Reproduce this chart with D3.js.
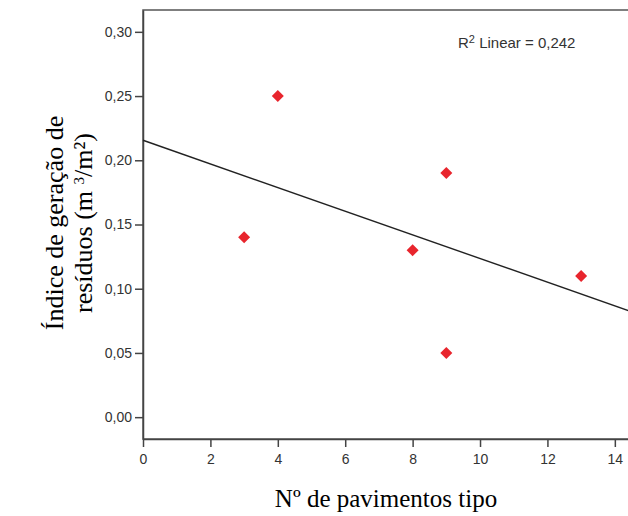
<!DOCTYPE html>
<html>
<head>
<meta charset="utf-8">
<script src="https://cdn.jsdelivr.net/npm/d3@7"></script>
<style>
  body { margin: 0; background: #fff; }
  .tick text { font-family: "Liberation Sans", Arial, sans-serif; font-size: 14px; fill: #333; }
  .tick line, .domain { stroke: #444; }
</style>
</head>
<body>
<div id="chart"></div>
<script>
// pavimentos tipo vs indice de geracao de residuos
var pavimentos = [3, 4, 8, 9, 9, 13];
var indice = [0.14, 0.25, 0.13, 0.19, 0.05, 0.11];
var xTicks = [0, 2, 4, 6, 8, 10, 12, 14];
var yTicks = [0, 0.05, 0.10, 0.15, 0.20, 0.25, 0.30];

var width = 628, height = 516;
var margin = {top: 10, right: -2, bottom: 77, left: 143};

var svg = d3.select("#chart").append("svg")
    .attr("width", width)
    .attr("height", height);

var x = d3.scaleLinear()
    .domain([0, 14.45])
    .range([margin.left, width - margin.right]);

var y = d3.scaleLinear()
    .domain([-0.017, 0.317])
    .range([height - margin.bottom, margin.top]);

var fmtY = function(d) { return d3.format(".2f")(d).replace(".", ","); };

// frame
svg.append("rect")
    .attr("x", x(0))
    .attr("y", y(0.317))
    .attr("width", x(14.45) - x(0))
    .attr("height", y(-0.017) - y(0.317))
    .attr("fill", "none")
    .attr("stroke", "#555")
    .attr("stroke-width", 1.5);

svg.append("g")
    .attr("transform", "translate(0," + y(-0.017) + ")")
    .call(d3.axisBottom(x).tickValues(xTicks).tickSize(8).tickPadding(7).tickSizeOuter(0))
    .call(function(g) { g.selectAll("line, .domain").attr("stroke-width", 1.5); });

svg.append("g")
    .attr("transform", "translate(" + x(0) + ",0)")
    .call(d3.axisLeft(y).tickValues(yTicks).tickFormat(fmtY).tickSize(8).tickPadding(3).tickSizeOuter(0))
    .call(function(g) { g.selectAll("line, .domain").attr("stroke-width", 1.5); });

// linear fit
var mx = d3.mean(pavimentos), my = d3.mean(indice);
var sxy = d3.sum(pavimentos, function(v, i) { return (v - mx) * (indice[i] - my); });
var sxx = d3.sum(pavimentos, function(v) { return (v - mx) * (v - mx); });
var syy = d3.sum(indice, function(v) { return (v - my) * (v - my); });
var slope = sxy / sxx, intercept = my - slope * mx;
var r2 = sxy * sxy / (sxx * syy);

svg.append("line")
    .attr("x1", x(0)).attr("y1", y(intercept))
    .attr("x2", x(14.45)).attr("y2", y(intercept + slope * 14.45))
    .attr("stroke", "#222")
    .attr("stroke-width", 1.4);

svg.selectAll(".pt")
    .data(pavimentos)
  .enter().append("path")
    .attr("class", "pt")
    .attr("d", d3.symbol().type(d3.symbolSquare).size(72))
    .attr("transform", function(d, i) { return "translate(" + x(d) + "," + y(indice[i]) + ") rotate(45)"; })
    .attr("fill", "#e8252d");

var r2t = svg.append("text")
    .attr("x", 458)
    .attr("y", 48)
    .style("font-family", "Liberation Sans, Arial, sans-serif")
    .style("font-size", "15px")
    .style("fill", "#333");
r2t.append("tspan").text("R");
r2t.append("tspan").attr("dy", -5).style("font-size", "11px").text("2");
r2t.append("tspan").attr("dy", 5).text(" Linear = " + d3.format(".3f")(r2).replace(".", ","));

svg.append("text")
    .attr("x", 386)
    .attr("y", 507)
    .attr("text-anchor", "middle")
    .style("font-family", "Liberation Serif, Times New Roman, serif")
    .style("font-size", "25px")
    .text("Nº de pavimentos tipo");

var yl = svg.append("text")
    .attr("transform", "translate(63,223) rotate(-90)")
    .attr("text-anchor", "middle")
    .style("font-family", "Liberation Serif, Times New Roman, serif")
    .style("font-size", "26px");
yl.append("tspan").attr("x", 0).attr("dy", 0).text("Índice de geração de");
var l2 = yl.append("tspan").attr("x", 0).attr("dy", 29);
l2.append("tspan").text("resíduos (m ");
l2.append("tspan").attr("dy", -8).style("font-size", "15px").text("3");
l2.append("tspan").attr("dy", 8).text("/m²)");
</script>
</body>
</html>
